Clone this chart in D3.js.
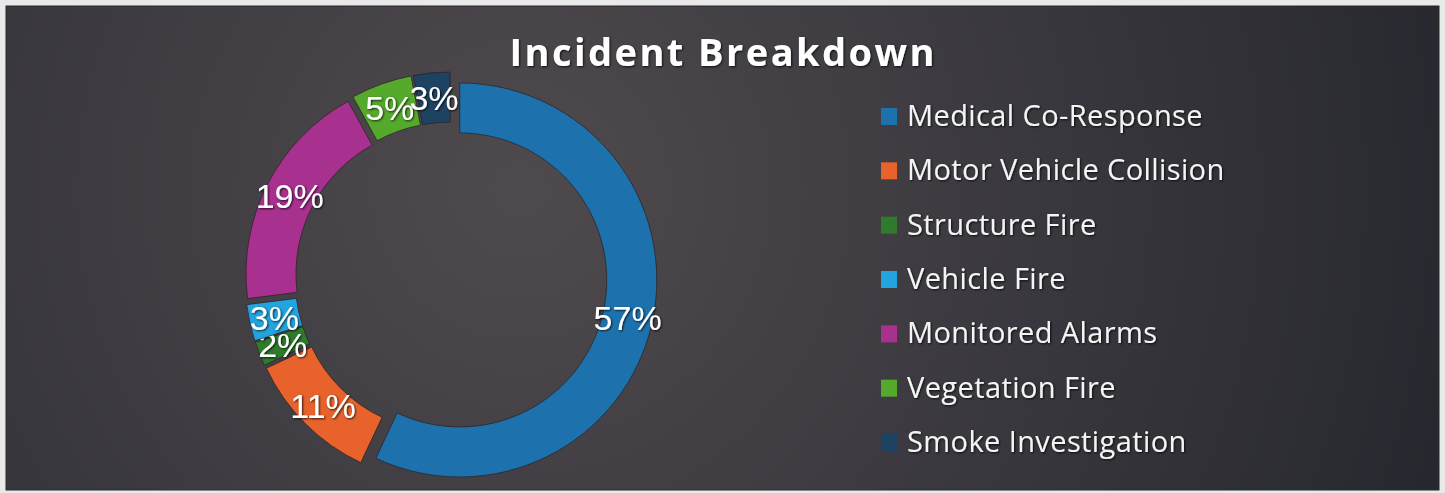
<!DOCTYPE html>
<html>
<head>
<meta charset="utf-8">
<script src="https://cdn.jsdelivr.net/npm/d3@7"></script>
<style>
  body { margin: 0; background: #e9e9e9; }
  #wrapper { width: 1445px; height: 493px; }
</style>
</head>
<body>
<div id="wrapper"></div>
<script>
// chart data
const categories = ["Medical Co-Response", "Motor Vehicle Collision", "Structure Fire",
    "Vehicle Fire", "Monitored Alarms", "Vegetation Fire", "Smoke Investigation"];
const shares = [57, 11, 2, 3, 19, 5, 3];
const sliceColors = ["#1d72ad", "#e8622c", "#2f7a2b", "#22a5df", "#a8308f", "#55aa2c", "#1e4262"];
const chartTitle = "Incident Breakdown";

function buildChart() {
    let dimension = {
        width: 1445,
        height: 493,
        frame: { left: 6, top: 6, right: 1439, bottom: 490 },
    }

    const wrapper = d3.select("#wrapper")
        .append("svg")
        .attr("width", dimension.width)
        .attr("height", dimension.height)

    const defs = wrapper.append("defs")
    const grad = defs.append("radialGradient")
        .attr("id", "bg")
        .attr("gradientUnits", "userSpaceOnUse")
        .attr("cx", 520).attr("cy", 190).attr("r", 980)
    grad.append("stop").attr("offset", 0).attr("stop-color", "#4f4a4d")
    grad.append("stop").attr("offset", 0.45).attr("stop-color", "#3d3b41")
    grad.append("stop").attr("offset", 1).attr("stop-color", "#26272e")

    const shadow = defs.append("filter").attr("id", "txtShadow")
        .attr("x", "-10%").attr("y", "-20%").attr("width", "120%").attr("height", "140%")
    shadow.append("feDropShadow")
        .attr("dx", 1).attr("dy", 1).attr("stdDeviation", 1.2)
        .attr("flood-color", "#000").attr("flood-opacity", 0.8)

    // chart area
    wrapper.append("rect")
        .attr("x", dimension.frame.left)
        .attr("y", dimension.frame.top)
        .attr("width", dimension.frame.right - dimension.frame.left)
        .attr("height", dimension.frame.bottom - dimension.frame.top)
        .attr("fill", "url(#bg)")
        .attr("stroke", "#2a2a2a")
        .attr("stroke-width", 1)

    // title
    wrapper.append("text")
        .attr("x", 722)
        .attr("y", 66)
        .attr("text-anchor", "middle")
        .attr("textLength", 425)
        .attr("lengthAdjust", "spacing")
        .style("font-family", "'Open Sans', sans-serif")
        .style("font-weight", 700)
        .style("font-size", "38px")
        .attr("fill", "#ffffff")
        .attr("filter", "url(#txtShadow)")
        .text(chartTitle)

    // donut
    const center = { x: 451, y: 278 }
    const outerR = 197
    const innerR = 147
    const explode = 9

    const pie = d3.pie().sort(null).value(d => d)
    const arcs = pie(shares)
    const total = d3.sum(shares)
    const arcGen = d3.arc().innerRadius(innerR).outerRadius(outerR)

    const bounds = wrapper.append("g")
        .attr("transform", `translate(${center.x}, ${center.y})`)

    const slices = bounds.selectAll("g.slice")
        .data(arcs)
        .join("g")
        .attr("class", "slice")
        .attr("transform", d => {
            const a = (d.startAngle + d.endAngle) / 2
            return `translate(${Math.sin(a) * explode}, ${-Math.cos(a) * explode})`
        })

    slices.append("path")
        .attr("d", arcGen)
        .attr("fill", (d, i) => sliceColors[i])
        .attr("stroke", "#2a1f22")
        .attr("stroke-opacity", 0.7)
        .attr("stroke-width", 1)

    slices.append("text")
        .attr("transform", d => `translate(${arcGen.centroid(d)})`)
        .attr("text-anchor", "middle")
        .attr("dy", "0.36em")
        .style("font-family", "'Liberation Sans', Arial, sans-serif")
        .style("font-size", "34px")
        .attr("fill", "#ffffff")
        .attr("filter", "url(#txtShadow)")
        .text(d => Math.round(d.value / total * 100) + "%")

    // legend
    const legendY = d3.scalePoint()
        .domain(categories)
        .range([116, 442])

    const legend = wrapper.append("g")
    const rows = legend.selectAll("g")
        .data(categories)
        .join("g")
        .attr("transform", d => `translate(881, ${legendY(d)})`)

    rows.append("rect")
        .attr("x", 0)
        .attr("y", -8)
        .attr("width", 16)
        .attr("height", 17)
        .attr("fill", (d, i) => sliceColors[i])

    rows.append("text")
        .attr("x", 26)
        .attr("dy", "0.35em")
        .style("font-family", "'Open Sans', sans-serif")
        .style("font-size", "29px")
        .style("letter-spacing", "0.4px")
        .attr("fill", "#f4f4f4")
        .attr("filter", "url(#txtShadow)")
        .text(d => d)
}

buildChart()
</script>
</body>
</html>
